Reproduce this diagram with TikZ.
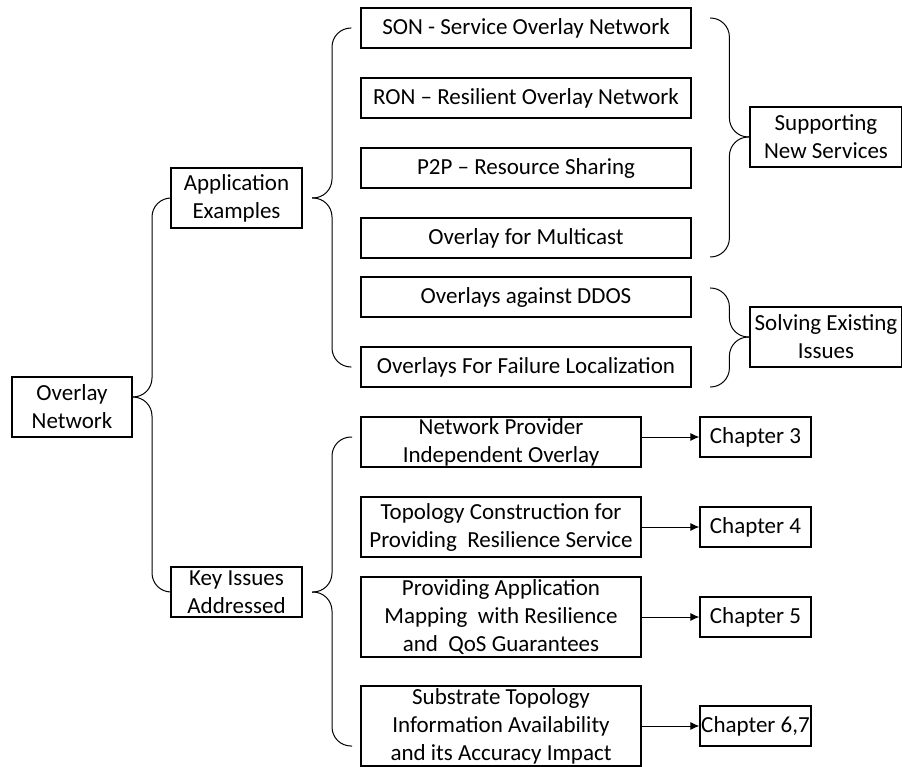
\documentclass[tikz,border=0pt]{standalone}
\usepackage{fontspec}
\setmainfont{Carlito}
\usepackage{tikz}
\usetikzlibrary{positioning,arrows.meta}
\tikzset{bx/.style={rectangle,draw,line width=1.2pt,inner sep=0pt,align=center,font=\fontsize{23}{28}\selectfont},
         brc/.style={line width=1pt,rounded corners=19pt}}

\begin{document}
\begin{tikzpicture}[>={Latex[length=9pt,width=8pt]},x=1pt,y=-1pt]
        \useasboundingbox (0,0) rectangle (902,767);
        % left column
        \node[bx,minimum width=120pt,minimum height=60pt] (ovl) at (72,407) {Overlay\\Network};
        \node[bx,minimum width=131pt,minimum height=60pt] (app) at (236.5,198) {Application\\Examples};
        \node[bx,minimum width=131pt,minimum height=50pt] (key) at (236.5,592) {Key Issues\\Addressed};

        % application examples
        \node[bx,minimum width=330pt,minimum height=40pt] (son) at (526,28) {SON - Service Overlay Network};
        \node[bx,minimum width=330pt,minimum height=40pt] (ron) at (526,98) {RON – Resilient Overlay Network};
        \node[bx,minimum width=330pt,minimum height=40pt] (ptp) at (526,168) {P2P – Resource Sharing};
        \node[bx,minimum width=330pt,minimum height=40pt] (mcast) at (526,238) {Overlay for Multicast};
        \node[bx,minimum width=330pt,minimum height=40pt] (ddos) at (526,297) {Overlays against DDOS};
        \node[bx,minimum width=330pt,minimum height=40pt] (fail) at (526,367) {Overlays For Failure Localization};
        \node[bx,minimum width=152pt,minimum height=60pt] (supp) at (826,137) {Supporting\\New Services};
        \node[bx,minimum width=152pt,minimum height=60pt] (solv) at (826,337) {Solving Existing\\Issues};

        % key issues
        \node[bx,minimum width=280pt,minimum height=50pt] (npi) at (501,442) {Network Provider\\Independent Overlay};
        \node[bx,minimum width=280pt,minimum height=60pt] (topo) at (501,527) {Topology Construction for\\Providing~ Resilience Service};
        \node[bx,minimum width=280pt,minimum height=80pt] (map) at (501,617) {Providing Application\\Mapping~ with Resilience\\and~ QoS Guarantees};
        \node[bx,minimum width=280pt,minimum height=80pt] (sub) at (501,726) {Substrate Topology\\Information Availability\\and its Accuracy Impact};
        \node[bx,minimum width=111pt,minimum height=40pt] (ch3) at (755.5,437) {Chapter 3};
        \node[bx,minimum width=111pt,minimum height=40pt] (ch4) at (755.5,527) {Chapter 4};
        \node[bx,minimum width=111pt,minimum height=40pt] (ch5) at (755.5,617) {Chapter 5};
        \node[bx,minimum width=111pt,minimum height=40pt] (ch67) at (755.5,726) {Chapter 6,7};

        % brace tips and ends
        \coordinate (ovltip) at (133,397);
        \coordinate (apptip) at (312,198);
        \coordinate (keytip) at (312,592);
        \coordinate (k1) at (352,437);
        \coordinate (k2) at (352,746);
        \coordinate (s1) at (710,18);
        \coordinate (s2) at (710,257);
        \coordinate (e1) at (710,288);
        \coordinate (e2) at (710,387);

        \draw[brc] (app.west) -| ([xshift=19pt]ovltip) -- (ovltip);
        \draw[brc] (key.west) -| ([xshift=19pt]ovltip) -- (ovltip);
        \draw[brc] ([xshift=-9pt]son.west) -| ([xshift=20pt]apptip) -- (apptip);
        \draw[brc] ([xshift=-9pt]fail.west) -| ([xshift=20pt]apptip) -- (apptip);
        \draw[brc] (k1) -| ([xshift=20pt]keytip) -- (keytip);
        \draw[brc] (k2) -| ([xshift=20pt]keytip) -- (keytip);
        \draw[brc] (s1) -| ([xshift=-20pt]supp.west) -- (supp.west);
        \draw[brc] (s2) -| ([xshift=-20pt]supp.west) -- (supp.west);
        \draw[brc] (e1) -| ([xshift=-20pt]solv.west) -- (solv.west);
        \draw[brc] (e2) -| ([xshift=-20pt]solv.west) -- (solv.west);

        \draw [->,line width=1pt] (npi.east |- ch3.west) -- (ch3.west);
        \draw [->,line width=1pt] (topo) -- (ch4);
        \draw [->,line width=1pt] (map) -- (ch5);
        \draw [->,line width=1pt] (sub) -- (ch67);
    \end{tikzpicture}
\end{document}
